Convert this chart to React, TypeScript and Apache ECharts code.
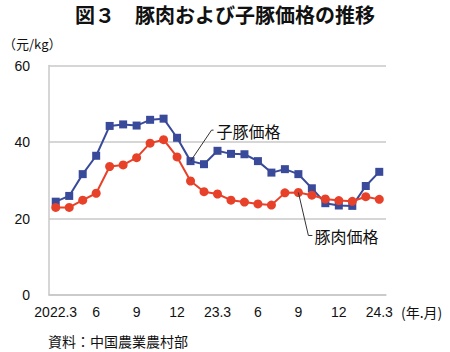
import React, { useEffect, useRef } from "react";
import * as echarts from "echarts";

const categories = [
  "2022.3", "4", "5", "6", "7", "8", "9", "10", "11", "12",
  "23.1", "2", "23.3", "4", "5", "6", "7", "8", "9", "10", "11", "12",
  "24.1", "2", "24.3",
];
const tickIndices = [0, 3, 6, 9, 12, 15, 18, 21, 24];
const piglet = [
  24.4, 25.9, 31.6, 36.4, 44.2, 44.6, 44.3, 45.8, 46.1, 41.1, 35.0, 34.2,
  37.7, 36.9, 36.8, 35.0, 32.0, 32.9, 31.6, 27.9, 24.0, 23.4, 23.3, 28.5, 32.2,
];
const pork = [
  22.9, 22.9, 24.8, 26.6, 33.6, 34.0, 35.9, 39.7, 40.6, 36.1, 29.8, 27.0,
  26.4, 24.8, 24.3, 23.8, 23.5, 26.7, 26.8, 26.1, 25.1, 24.7, 24.5, 25.7, 25.0,
];
const yTicks = [0, 20, 40, 60];

const BLUE = "#3a4a9a";
const RED = "#e8412a";
const FONT = "'Liberation Sans', 'Noto Sans CJK JP', sans-serif";
const JFONT = "'Noto Sans CJK JP', sans-serif";

export default function App() {
  const ref = useRef<HTMLDivElement>(null);
  useEffect(() => {
    if (!ref.current) return;
    const chart = echarts.init(ref.current, undefined, { renderer: "svg" });
    const staticGraphics = [
      {
        id: "title",
        type: "text",
        left: "center",
        top: 4,
        style: {
          text: "図３　豚肉および子豚価格の推移",
          fontSize: 20,
          fontWeight: "bold",
          fontFamily: JFONT,
          fill: "#111",
        },
      },
      {
        id: "yunit",
        type: "text",
        x: 3,
        y: 43,
        style: {
          text: "（元/kg）",
          fontSize: 13,
          fontFamily: JFONT,
          fill: "#111",
          verticalAlign: "middle",
        },
      },
      {
        id: "xunit",
        type: "text",
        x: 401,
        y: 312,
        style: {
          text: "(年.月)",
          fontSize: 14,
          fontFamily: JFONT,
          fill: "#111",
          align: "left",
          verticalAlign: "middle",
        },
      },
      {
        id: "source",
        type: "text",
        x: 48,
        y: 341,
        style: {
          text: "資料：中国農業農村部",
          fontSize: 14,
          fontFamily: JFONT,
          fill: "#111",
          verticalAlign: "middle",
        },
      },
    ];
    chart.setOption({
      animation: false,
      backgroundColor: "#ffffff",
      grid: { left: 49, right: 64, top: 65.5, bottom: 57, containLabel: false },
      xAxis: {
        type: "category",
        data: categories,
        boundaryGap: true,
        axisLine: { show: true, lineStyle: { color: "#c8c8c8", width: 1.5 } },
        axisTick: { show: false },
        axisLabel: {
          interval: (i: number) => tickIndices.includes(i),
          color: "#111",
          fontSize: 14,
          fontFamily: FONT,
          margin: 10,
        },
        splitLine: { show: false },
      },
      yAxis: {
        type: "value",
        min: yTicks[0],
        max: yTicks[yTicks.length - 1],
        interval: 20,
        axisLine: { show: true, lineStyle: { color: "#c8c8c8", width: 1.5 } },
        axisTick: { show: false },
        axisLabel: { color: "#111", fontSize: 14, fontFamily: FONT, margin: 19 },
        splitLine: { show: true, lineStyle: { color: "#c8c8c8", width: 1.5 } },
      },
      series: [
        {
          name: "子豚価格",
          type: "line",
          data: piglet,
          symbol: "rect",
          symbolSize: 8,
          showSymbol: true,
          showAllSymbol: true,
          lineStyle: { color: BLUE, width: 2 },
          itemStyle: { color: BLUE },
        },
        {
          name: "豚肉価格",
          type: "line",
          data: pork,
          symbol: "circle",
          symbolSize: 9,
          showSymbol: true,
          showAllSymbol: true,
          lineStyle: { color: RED, width: 2 },
          itemStyle: { color: RED },
        },
      ],
      graphic: staticGraphics,
    });

    const p1 = chart.convertToPixel({ seriesIndex: 0 }, [10, piglet[10]]) as number[];
    const p2 = chart.convertToPixel({ seriesIndex: 1 }, [18, pork[18]]) as number[];
    chart.setOption({
      graphic: [
        ...staticGraphics,
        {
          id: "lead1",
          type: "polyline",
          shape: {
            points: [
              [p1[0], p1[1]],
              [p1[0] + 21, p1[1] - 31],
              [p1[0] + 23, p1[1] - 31],
            ],
          },
          style: { stroke: "#333", lineWidth: 1, fill: null },
          z: 10,
        },
        {
          id: "label1",
          type: "text",
          x: p1[0] + 26,
          y: p1[1] - 30,
          style: {
            text: "子豚価格",
            fontSize: 16,
            fontFamily: JFONT,
            fill: "#111",
            verticalAlign: "middle",
          },
          z: 10,
        },
        {
          id: "lead2",
          type: "polyline",
          shape: {
            points: [
              [p2[0], p2[1]],
              [p2[0] + 10, p2[1] + 43],
              [p2[0] + 14, p2[1] + 43],
            ],
          },
          style: { stroke: "#333", lineWidth: 1, fill: null },
          z: 10,
        },
        {
          id: "label2",
          type: "text",
          x: p2[0] + 16,
          y: p2[1] + 44,
          style: {
            text: "豚肉価格",
            fontSize: 16,
            fontFamily: JFONT,
            fill: "#111",
            verticalAlign: "middle",
          },
          z: 10,
        },
      ],
    });

    return () => chart.dispose();
  }, []);
  return <div ref={ref} style={{ width: 450, height: 352, position: "absolute", left: 0, top: 0 }} />;
}
